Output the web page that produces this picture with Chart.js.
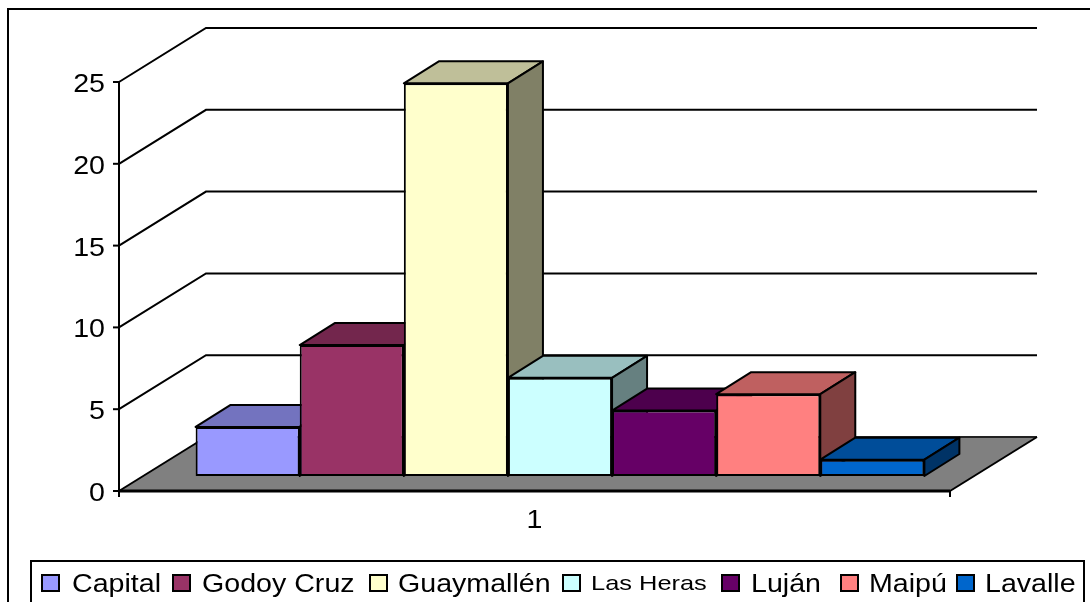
<!DOCTYPE html>
<html>
<head>
<meta charset="utf-8">
<style>html,body{margin:0;padding:0;background:#fff;overflow:hidden}canvas{display:block}</style>
<script src="https://cdn.jsdelivr.net/npm/chart.js@4/dist/chart.umd.min.js"></script>
</head>
<body>
<canvas id="c" width="1090" height="602"></canvas>
<script>
const categories = ["1"];
const seriesNames = ["Capital","Godoy Cruz","Guaymallén","Las Heras","Luján","Maipú","Lavalle"];
const seriesValues = [3,8,24,6,4,5,1];
const frontColors = ["#9999FF","#993366","#FFFFCC","#CCFFFF","#660066","#FF8080","#0066CC"];
const topColors = ["#7373BF","#73264D","#BFBF99","#99BFBF","#4D004D","#BF6060","#004D99"];
const sideColors = ["#4D4D80","#4D1A33","#808066","#668080","#330033","#804040","#003366"];

const FONT = '"Liberation Sans", Arial, sans-serif';
const STRETCH = 1.1;
const TEXT_SIZE = 26;
const WALL = {dx:87, dy:-54};
const BAR_OFF = {dx:25.5, dy:-15};
const BAR_DEPTH = {dx:35, dy:-22};
const LEG_SWATCH_X = [42,173,370,563,722,841,957];
const LEG_TEXT_X = [72,202,398,591,751,869,985];

function wideText(ctx, s, x, y, size, align, stretch){
  ctx.save();
  ctx.font = size+'px '+FONT;
  ctx.fillStyle = '#000';
  ctx.textBaseline = 'alphabetic';
  ctx.textAlign = align;
  ctx.translate(x,y);
  ctx.scale(stretch||STRETCH,1);
  ctx.fillText(s,0,0);
  ctx.restore();
}
function line(ctx, pts, w, color){
  ctx.beginPath();
  pts.forEach((p,i)=> i?ctx.lineTo(p[0],p[1]):ctx.moveTo(p[0],p[1]));
  ctx.lineWidth = w; ctx.strokeStyle = color||'#000'; ctx.stroke();
}
function poly(ctx, pts, fill, w){
  ctx.beginPath();
  pts.forEach((p,i)=> i?ctx.lineTo(p[0],p[1]):ctx.moveTo(p[0],p[1]));
  ctx.closePath();
  ctx.fillStyle = fill; ctx.fill();
  ctx.lineJoin='round';
  ctx.lineWidth = w; ctx.strokeStyle = '#000'; ctx.stroke();
}

const scene = {
  id:'scene',
  beforeDraw(chart){
    const ctx = chart.ctx, y = chart.scales.y, x = chart.scales.x;
    const L = x.left, R = x.right, B = y.getPixelForValue(0);
    ctx.save();
    ctx.fillStyle='#fff'; ctx.fillRect(0,0,chart.width,chart.height);
    ctx.strokeStyle='#000'; ctx.lineWidth=2;
    ctx.strokeRect(8,9,1200,800);
    // floor
    ctx.beginPath();
    ctx.moveTo(L,B);ctx.lineTo(L+WALL.dx,B+WALL.dy);ctx.lineTo(R+WALL.dx,B+WALL.dy);ctx.lineTo(R,B);ctx.closePath();
    ctx.fillStyle='#808080';ctx.fill();
    line(ctx,[[L,B],[L+WALL.dx,B+WALL.dy]],2);
    line(ctx,[[L+WALL.dx,B+WALL.dy],[R+WALL.dx,B+WALL.dy]],2,'#222');
    line(ctx,[[R+WALL.dx,B+WALL.dy],[R,B]],2);
    // walls
    y.ticks.forEach(t=>{
      const py = y.getPixelForValue(t.value);
      if(t.value>0) line(ctx,[[L,py],[L+WALL.dx,py+WALL.dy],[R+WALL.dx,py+WALL.dy]],2);
      line(ctx,[[L-6,py],[L,py]],2);
      wideText(ctx,t.label,L-14,py+10,TEXT_SIZE,'right');
    });
    line(ctx,[[L,y.getPixelForValue(25)],[L,B+6]],2);
    line(ctx,[[L-1,B],[R,B]],3);
    line(ctx,[[R,B],[R,B+6]],2);
    x.ticks.forEach((t,i)=>{
      wideText(ctx,String(x.getLabelForValue(t.value)),x.getPixelForTick(i),528,TEXT_SIZE,'center');
    });
    // legend
    ctx.lineWidth=2; ctx.strokeStyle='#000';
    ctx.strokeRect(31,561,1053,80);
    chart.data.datasets.forEach((d,i)=>{
      ctx.fillStyle=d.backgroundColor; ctx.lineWidth=2;
      ctx.fillRect(LEG_SWATCH_X[i],575,17,16);
      ctx.strokeRect(LEG_SWATCH_X[i],575,17,16);
      if(d.label==='Las Heras') wideText(ctx,d.label,LEG_TEXT_X[i],590,21,'left',1.21);
      else wideText(ctx,d.label,LEG_TEXT_X[i],592,TEXT_SIZE,'left');
    });
    ctx.restore();
  },
  beforeDatasetDraw(){ return false; },
  afterDatasetsDraw(chart){
    const ctx = chart.ctx;
    ctx.save();
    ctx.translate(BAR_OFF.dx,BAR_OFF.dy);
    chart.data.datasets.forEach((d,i)=>{
      const bar = chart.getDatasetMeta(i).data[0];
      const hw = bar.width/2, l=bar.x-hw, r=bar.x+hw, t=bar.y, b=bar.base;
      const dx=BAR_DEPTH.dx, dy=BAR_DEPTH.dy;
      poly(ctx,[[l,t],[l+dx,t+dy],[r+dx,t+dy],[r,t]],topColors[i],2);
      poly(ctx,[[r,t],[r+dx,t+dy],[r+dx,b+dy],[r,b]],sideColors[i],2);
      bar.draw(ctx);
    });
    ctx.restore();
  }
};

new Chart(document.getElementById('c'),{
  type:'bar',
  data:{
    labels:categories,
    datasets:seriesNames.map((n,i)=>({
      label:n,
      data:[seriesValues[i]],
      backgroundColor:frontColors[i],
      borderColor:'#000',
      borderWidth:2,
      borderSkipped:false
    }))
  },
  options:{
    responsive:false,
    animation:false,
    layout:{padding:{left:119,right:140,top:82,bottom:111}},
    datasets:{bar:{categoryPercentage:0.877,barPercentage:1}},
    plugins:{legend:{display:false},title:{display:false},tooltip:{enabled:false}},
    scales:{
      x:{grid:{display:false,tickLength:0},border:{display:false},ticks:{display:false,padding:0}},
      y:{min:0,max:25,ticks:{display:false,stepSize:5,padding:0},grid:{display:false,tickLength:0},border:{display:false}}
    }
  },
  plugins:[scene]
});
</script>
</body>
</html>
